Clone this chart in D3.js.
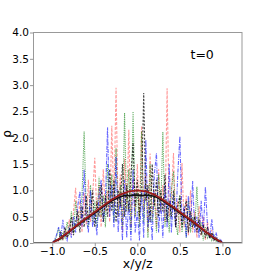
<!DOCTYPE html>
<html>
<head>
<meta charset="utf-8">
<script src="https://cdn.jsdelivr.net/npm/d3@7"></script>
<style>
  body { margin: 0; background: #fff; }
  text { font-family: "DejaVu Sans", sans-serif; }
</style>
</head>
<body>
<svg class="rhosvg"></svg>
<script>
// sample grid for the noisy runs, x = -1 .. 1 step 0.025
const gridX = d3.range(81).map(i => -1 + i * 0.025);

const redDashed = [0, 0.02, 0.05, 0.03, 0.12, 0.05, 0.25, 0.1, 0.45, 0.15,
  0.6, 1.05, 0.3, 0.8, 0.2, 0.95, 0.35, 1.2, 0.4, 0.9,
  1.62, 0.5, 1.1, 0.3, 1.4, 0.6, 1.0, 0.4, 2.23, 0.7,
  2.95, 0.5, 1.3, 0.2, 1.6, 0.6, 2.15, 0.3, 1.2, 0.5,
  1.5, 0.4, 2.22, 0.6, 1.3, 0.2, 1.7, 0.5, 1.0, 0.3,
  1.4, 0.6, 1.1, 0.4, 2.94, 0.5, 0.9, 1.71, 0.3, 0.8,
  0.2, 1.52, 0.3, 0.9, 0.15, 1.0, 0.2, 0.6, 0.1, 0.7,
  0.15, 0.5, 0.05, 0.4, 0.1, 0.25, 0.05, 0.12, 0.02, 0.05, 0];

const greenDotted = [0, 0.05, 0.12, 0.28, 0.05, 0.2, 0.1, 0.4, 0.15, 0.6,
  0.2, 0.8, 0.3, 0.5, 0.9, 2.12, 0.6, 0.3, 1.1, 0.4,
  0.8, 0.3, 1.26, 0.5, 0.9, 0.3, 1.5, 0.6, 1.3, 0.4,
  1.8, 0.5, 1.1, 0.3, 2.47, 0.6, 1.4, 0.2, 2.5, 0.5,
  1.0, 0.3, 2.12, 0.4, 1.2, 0.1, 1.5, 0.4, 0.9, 0.2,
  1.3, 0.6, 2.11, 0.3, 0.8, 0.2, 1.0, 1.36, 0.4, 0.15,
  0.9, 0.2, 0.6, 0.1, 0.8, 0.2, 0.5, 0.3, 1.07, 0.2,
  0.4, 0.05, 0.3, 0.1, 0.2, 0.05, 0.15, 0.03, 0.08, 0.02, 0];

const blueDashDot = [0, 0.05, 0.15, 0.3, 0.1, 0.44, 0.15, 0.05, 0.3, 0.1,
  0.5, 0.2, 0.7, 0.98, 0.3, 1.39, 0.5, 0.2, 1.0, 0.3,
  0.6, 0.15, 0.9, 1.2, 0.4, 0.8, 2.2, 0.5, 1.1, 0.3,
  1.64, 0.2, 0.9, 0.05, 1.2, 0.1, 0.8, 0.05, 1.4, 0.2,
  0.6, 0.05, 1.0, 0.1, 1.96, 0.3, 0.7, 0.05, 1.3, 1.71,
  0.2, 0.8, 0.1, 1.1, 0.3, 1.5, 0.2, 0.9, 0.3, 1.3,
  2.03, 0.4, 0.7, 0.1, 0.9, 0.3, 1.18, 0.2, 0.5, 0.1,
  0.8, 0.2, 1.07, 0.3, 0.1, 0.45, 0.05, 0.2, 0.02, 0.08, 0];

const blackDashed = [0, 0.02, 0.08, 0.03, 0.2, 0.08, 0.3, 0.1, 0.2, 0.5,
  0.15, 0.4, 0.6, 0.2, 0.7, 0.3, 0.9, 0.4, 0.6, 1.0,
  0.3, 0.8, 0.5, 1.1, 0.4, 0.9, 0.5, 1.4, 0.6, 1.2,
  0.4, 1.0, 0.7, 1.5, 0.5, 1.1, 0.6, 1.3, 1.9, 0.7,
  1.2, 0.5, 1.0, 2.85, 0.8, 1.1, 0.4, 1.5, 0.7, 1.2,
  0.5, 1.0, 0.6, 1.3, 0.4, 0.8, 0.5, 1.0, 0.3, 0.7,
  0.9, 0.3, 0.6, 0.8, 0.2, 0.6, 0.3, 0.5, 0.2, 0.45,
  0.15, 0.35, 0.1, 0.3, 0.08, 0.2, 0.05, 0.1, 0.03, 0.05, 0];

// smooth profiles
const smoothX = [-1.22, -1.0, -0.9, -0.8, -0.7, -0.6, -0.5, -0.4, -0.3, -0.2, -0.15, -0.1, -0.05, 0,
  0.05, 0.1, 0.15, 0.2, 0.3, 0.4, 0.5, 0.6, 0.7, 0.8, 0.9, 1.0, 1.23];
const blackSmooth = [0, 0, 0.09, 0.21, 0.34, 0.46, 0.57, 0.69, 0.8, 0.88, 0.9, 0.9, 0.91, 0.91,
  0.9, 0.91, 0.9, 0.89, 0.8, 0.69, 0.57, 0.46, 0.34, 0.21, 0.09, 0, 0];
const redX = [-1.0, -0.9, -0.8, -0.7, -0.6, -0.5, -0.4, -0.3, -0.2, -0.1, 0,
  0.1, 0.2, 0.3, 0.4, 0.5, 0.6, 0.7, 0.8, 0.9, 1.0];
const redSmooth = [0, 0.1, 0.22, 0.35, 0.47, 0.59, 0.71, 0.82, 0.92, 0.98, 1.0,
  0.98, 0.92, 0.82, 0.71, 0.59, 0.47, 0.35, 0.22, 0.1, 0];

const xTicks = [-1.0, -0.5, 0.0, 0.5, 1.0];
const yTicks = [0.0, 0.5, 1.0, 1.5, 2.0, 2.5, 3.0, 3.5, 4.0];

const dims = { width: 270, height: 273 };
const box = { left: 33.5, top: 32.5, right: 242, bottom: 243 };

const svg = d3.select('.rhosvg')
  .attr('width', dims.width)
  .attr('height', dims.height);

const x = d3.scaleLinear().domain([-1.22, 1.23]).range([box.left, box.right]);
const y = d3.scaleLinear().domain([0, 4]).range([box.bottom, box.top]);

svg.append('defs').append('clipPath').attr('id', 'clip')
  .append('rect')
  .attr('x', box.left).attr('y', box.top)
  .attr('width', box.right - box.left).attr('height', box.bottom - box.top);

const plot = svg.append('g').attr('clip-path', 'url(#clip)');

const line = d3.line().x(d => x(d[0])).y(d => y(d[1]));
const pairs = (xs, ys) => xs.map((v, i) => [v, ys[i]]);

const noisy = [
  { vals: redDashed, color: '#ff0000', op: 0.4, dash: '3,1.5' },
  { vals: greenDotted, color: '#007a00', op: 0.6, dash: '1.2,1' },
  { vals: blueDashDot, color: '#0000ff', op: 0.6, dash: '4,1.2,1,1.2' },
  { vals: blackDashed, color: '#000000', op: 0.75, dash: '2,1.5' }
];

noisy.forEach(s => {
  plot.append('path')
    .attr('d', line(pairs(gridX, s.vals)))
    .attr('fill', 'none')
    .attr('stroke', s.color)
    .attr('stroke-opacity', s.op)
    .attr('stroke-width', 1.1)
    .attr('stroke-dasharray', s.dash);
});

plot.append('path')
  .attr('d', line(pairs(smoothX, blackSmooth)))
  .attr('fill', 'none')
  .attr('stroke', '#111')
  .attr('stroke-width', 1.6);

plot.append('path')
  .attr('d', line(pairs(redX, redSmooth)))
  .attr('fill', 'none')
  .attr('stroke', '#9b1c1c')
  .attr('stroke-width', 1.8);

// frame
svg.append('rect')
  .attr('x', box.left).attr('y', box.top)
  .attr('width', box.right - box.left).attr('height', box.bottom - box.top)
  .attr('fill', 'none')
  .attr('stroke', '#999')
  .attr('stroke-width', 1);

const fmt = d3.format('.1f');

const xAxis = svg.append('g')
  .attr('transform', `translate(0, ${box.bottom})`)
  .call(d3.axisBottom(x).tickValues(xTicks).tickFormat(fmt).tickSize(3.5).tickPadding(1.5));

const yAxis = svg.append('g')
  .attr('transform', `translate(${box.left}, 0)`)
  .call(d3.axisLeft(y).tickValues(yTicks).tickFormat(fmt).tickSize(3.5).tickPadding(1));

[xAxis, yAxis].forEach(a => {
  a.select('.domain').remove();
  a.selectAll('line').attr('stroke', '#999');
  a.selectAll('text')
    .attr('fill', '#000')
    .style('font-family', '"DejaVu Sans", sans-serif')
    .style('font-size', '10.5px');
});

svg.append('text')
  .attr('x', (box.left + box.right) / 2)
  .attr('y', 268)
  .attr('text-anchor', 'middle')
  .style('font-size', '12.5px')
  .text('x/y/z');

svg.append('text')
  .attr('transform', 'translate(11, 134) rotate(-90)')
  .attr('text-anchor', 'middle')
  .style('font-size', '12px')
  .text('ρ');

svg.append('text')
  .attr('x', 190.5)
  .attr('y', 59)
  .style('font-size', '12.5px')
  .text('t=0');
</script>
</body>
</html>
